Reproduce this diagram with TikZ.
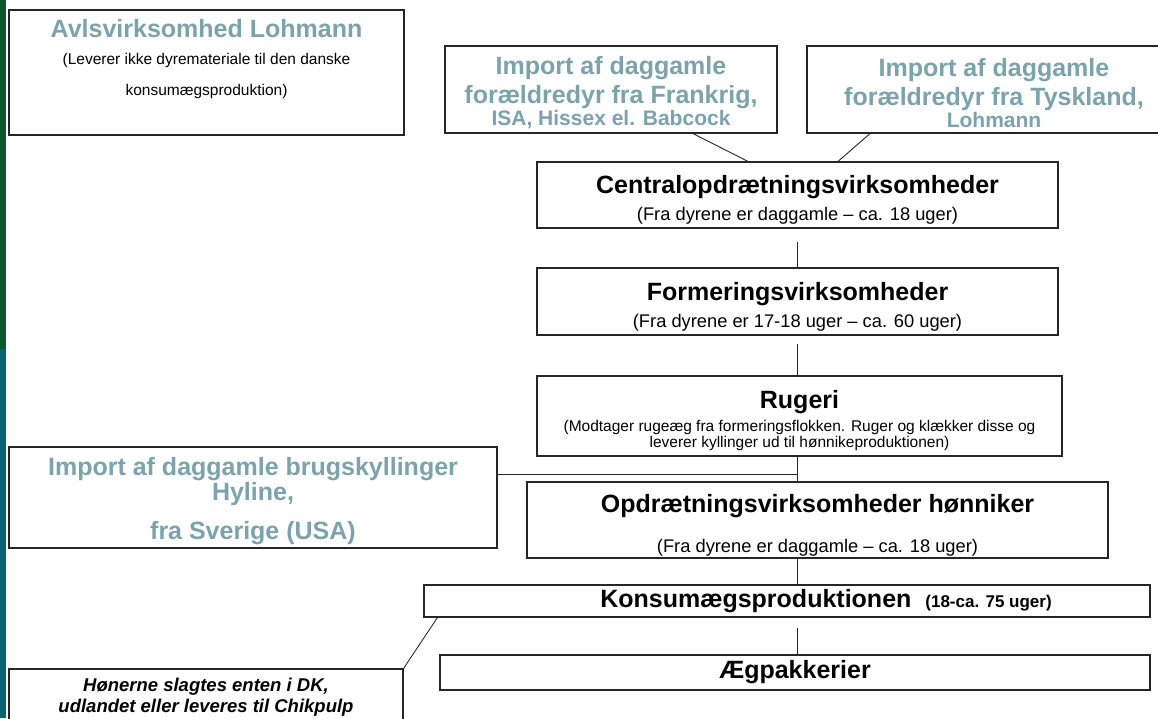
\documentclass[tikz,border=0pt]{standalone}
\usepackage{fontspec}
\setmainfont{Liberation Sans}
\usetikzlibrary{positioning}

\definecolor{importblaa}{RGB}{122,163,174}
\definecolor{kantgroen}{RGB}{12,86,48}
\definecolor{kantteal}{RGB}{8,99,112}

\newcommand{\overskrift}{\fontsize{25}{29}\selectfont\bfseries}
\newcommand{\luft}[1]{\rule{0pt}{#1}}

\begin{document}
\begin{tikzpicture}[x=1pt, y=-1pt,
    kasse/.style={draw=black!85, line width=1.2pt, fill=white, align=center, inner sep=0pt},
    import/.style={kasse, text=importblaa},
    forbind/.style={black!85, line width=0.9pt}]
    \useasboundingbox (0,0) rectangle (1158,718);
    \clip (0,0) rectangle (1158,718);

    % farvet kant til venstre
    \fill[kantgroen] (0,0) rectangle (6,349);
    \fill[kantteal] (0,349) rectangle (6,718);

    % --- øverste række ---
    \node[kasse, minimum width=395pt, minimum height=125pt,
          font=\fontsize{15.5}{31}\selectfont] (avls) at (206.5,72.5)
        {{\overskrift\color{importblaa}Avlsvirksomhed Lohmann}\\[-4pt]
         (Leverer ikke dyremateriale til den danske\\
         konsumægsproduktion)\\ \mbox{}};
    \node[import, minimum width=332pt, minimum height=87pt,
          font=\bfseries\fontsize{21}{29}\selectfont] (frankrig) at (611,89.5)
        {{\overskrift\luft{25pt}Import af daggamle}\\
         {\overskrift forældredyr fra Frankrig,}\\[-7pt]
         ISA, Hissex el. Babcock};
    \node[import, minimum width=374pt, minimum height=87pt,
          font=\bfseries\fontsize{21}{29}\selectfont] (tyskland) at (994,89.5)
        {{\overskrift\luft{25pt}Import af daggamle}\\
         {\overskrift forældredyr fra Tyskland,}\\[-7pt]
         Lohmann};

    % --- hovedkæden ---
    \node[kasse, minimum width=521pt, minimum height=66pt,
          font=\fontsize{18.3}{27}\selectfont] (central) at (797.5,195)
        {{\overskrift\luft{28pt}Centralopdrætningsvirksomheder}\\
         (Fra dyrene er daggamle – ca. 18 uger)};
    \node[kasse, minimum width=521pt, minimum height=67pt,
          font=\fontsize{18.3}{27}\selectfont] (formering) at (797.5,301.5)
        {{\overskrift\luft{29pt}Formeringsvirksomheder}\\
         (Fra dyrene er 17-18 uger – ca. 60 uger)};
    \node[kasse, minimum width=525pt, minimum height=80pt,
          font=\fontsize{15.5}{16}\selectfont] (rugeri) at (799.5,416)
        {{\overskrift\luft{28pt}Rugeri}\\[5.5pt]
         (Modtager rugeæg fra formeringsflokken. Ruger og klækker disse og\\
         leverer kyllinger ud til hønnikeproduktionen)};
    \node[import, minimum width=488pt, minimum height=101pt,
          font=\bfseries\fontsize{25}{25}\selectfont] (brugs) at (253,497.5)
        {\luft{26pt}Import af daggamle brugskyllinger\\
         Hyline,\\[14pt]
         fra Sverige (USA)};
    \node[kasse, minimum width=581pt, minimum height=76pt,
          font=\fontsize{18.3}{27}\selectfont] (opdraet) at (817.5,520)
        {{\overskrift\luft{28pt}Opdrætningsvirksomheder hønniker}\\[12.8pt]
         (Fra dyrene er daggamle – ca. 18 uger)};
    \node[kasse, minimum width=726pt, minimum height=32pt] (konsum) at (787,601)
        {\hspace*{78pt}{\overskrift Konsumægsproduktionen}\hspace{14pt}%
         {\fontsize{17}{20}\selectfont\bfseries(18-ca. 75 uger)}};
    \node[kasse, minimum width=710pt, minimum height=35pt] (aegpak) at (795,672.5)
        {\overskrift Ægpakkerier};
    \node[kasse, minimum width=394pt, minimum height=56pt,
          font=\bfseries\itshape\fontsize{18.5}{21}\selectfont] (slagt) at (206,697)
        {Hønerne slagtes enten i DK,\\
         udlandet eller leveres til Chikpulp};

    % --- forbindelser ---
    \draw[forbind] ([xshift=82pt]frankrig.south) -- ([xshift=-49.5pt]central.north);
    \draw[forbind] ([xshift=-124pt]tyskland.south) -- ([xshift=40.5pt]central.north);
    \draw[forbind, shorten <=13pt] (central.south) -- (formering.north);
    \draw[forbind, shorten <=8pt] (formering.south) -- (formering.south |- rugeri.north);
    \draw[forbind] (formering.south |- rugeri.south) -- (formering.south |- opdraet.north);
    \draw[forbind] ([yshift=23.5pt]brugs.east) -- ([yshift=23.5pt]brugs.east -| formering.south);
    \draw[forbind] (formering.south |- opdraet.south) -- (formering.south |- konsum.north);
    \draw[forbind, shorten <=10pt] (formering.south |- konsum.south) -- (formering.south |- aegpak.north);
    \draw[forbind] (slagt.north east) -- ([xshift=14pt]konsum.south west);
\end{tikzpicture}
\end{document}
